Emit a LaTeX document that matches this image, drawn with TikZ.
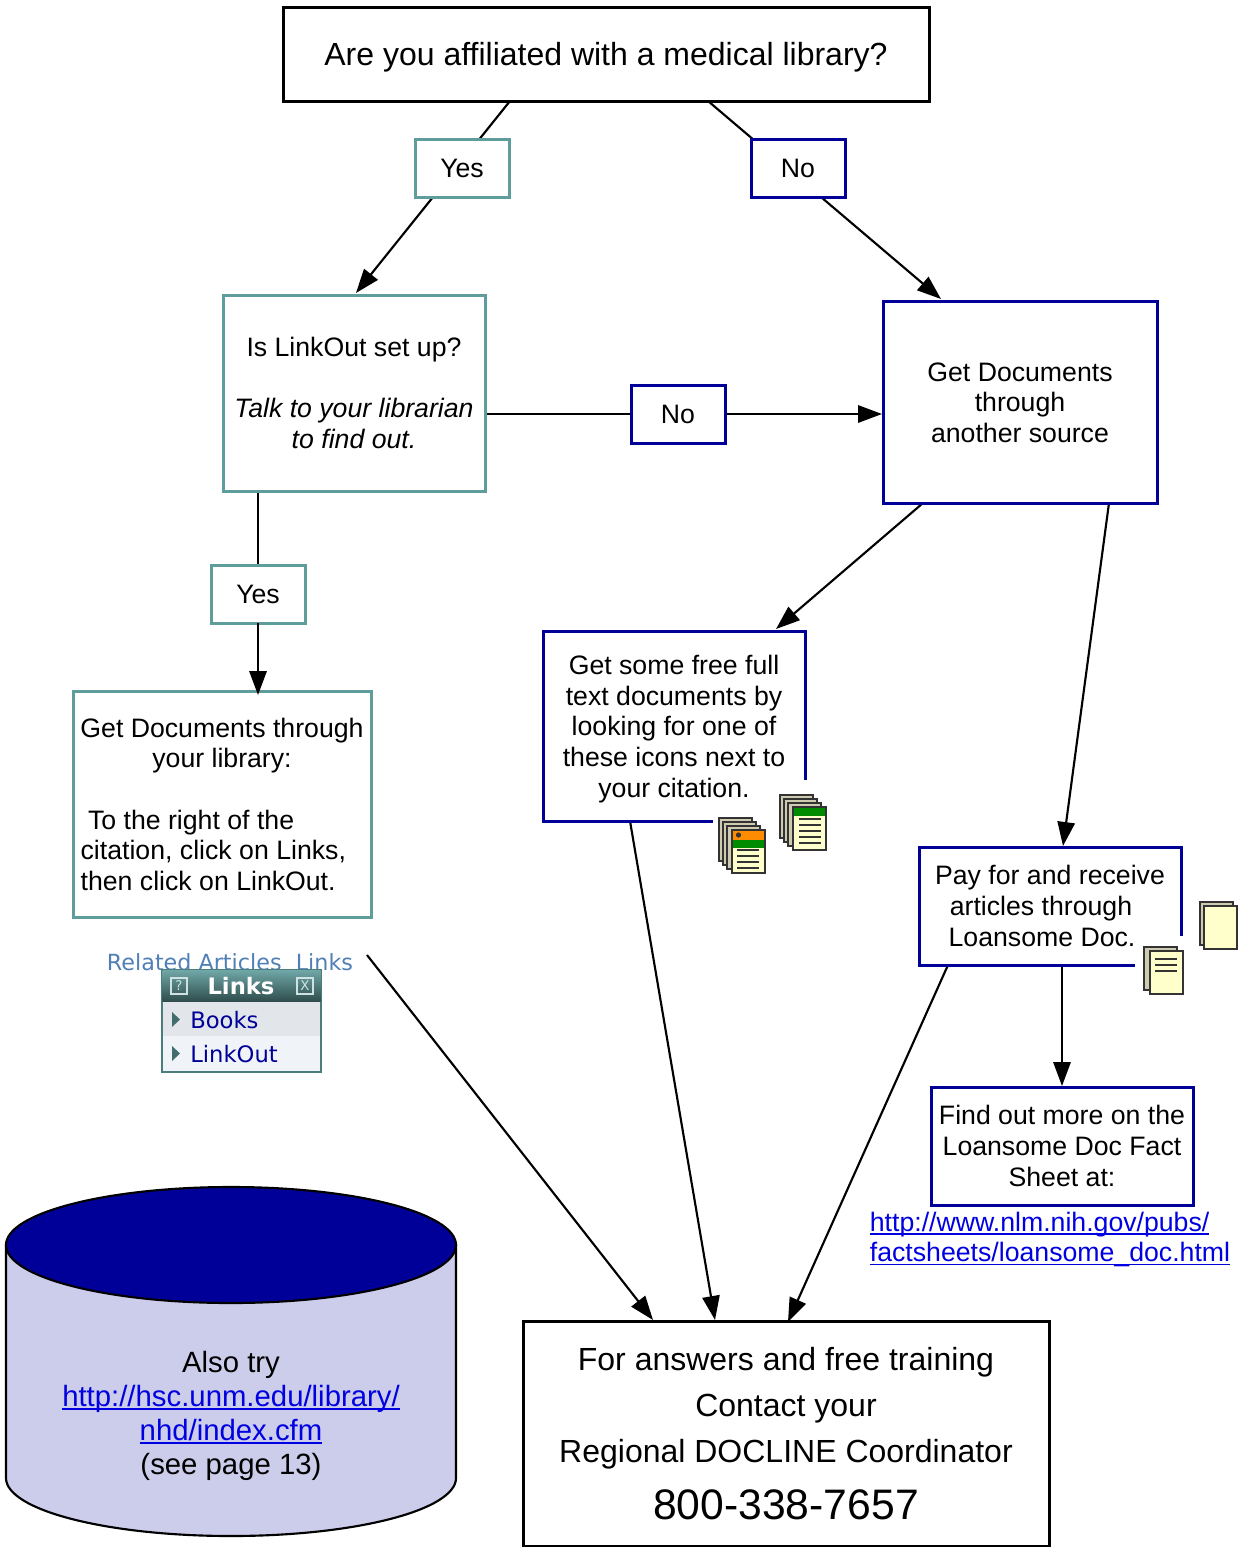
\documentclass[tikz,border=0pt]{standalone}
\usepackage{fontspec}
\setmainfont{Liberation Sans}
\newfontfamily\webfont{DejaVu Sans}
\usetikzlibrary{arrows.meta,backgrounds}
\definecolor{tealc}{HTML}{5F9C9C}
\definecolor{navyc}{HTML}{000099}
\definecolor{cylc}{HTML}{CCCCEB}
\definecolor{linkc}{HTML}{0000E0}
\definecolor{pagec}{HTML}{FFFFCC}
\definecolor{backc}{HTML}{CFCBB0}
\definecolor{darkc}{HTML}{333333}
\definecolor{relc}{HTML}{4F7FB5}
\definecolor{rowa}{HTML}{E2E6EA}
\definecolor{rowb}{HTML}{F0F3F7}
\newcommand{\bodyf}{\fontsize{20}{23}\selectfont}
\newcommand{\bigf}{\fontsize{24}{34.5}\selectfont}
\newcommand{\lnk}[1]{\textcolor{linkc}{\setbox0\hbox{#1}\rlap{\rule[-2.6pt]{\wd0}{1.3pt}}\box0}}
\newcommand{\docback}[2]{\draw[page line,fill=backc] (#1,#2) rectangle ++(33,43);}
\newcommand{\docfront}[2]{\draw[page line,fill=pagec] (#1,#2) rectangle ++(33,43);}
\newcommand{\doclines}[3]{\foreach \k in {0,...,#3} \draw[line width=1.6pt,darkc] (#1,#2+\k*6) -- ++(22,0);}
\tikzset{
  x=0.75pt,y=-0.75pt,
  page line/.style={draw=darkc,line width=1.5pt},
  boxbase/.style={rectangle,fill=white,line width=2.25pt,inner sep=0pt,outer sep=0pt,align=center,font=\bodyf},
  blackbox/.style={boxbase,draw=black},
  tealbox/.style={boxbase,draw=tealc},
  navybox/.style={boxbase,draw=navyc},
  conn/.style={draw=black,line width=1.6pt},
  arrow/.style={conn,-{Triangle[length=18pt,width=13pt]}},
  plain/.style={inner sep=0pt,outer sep=0pt,align=center,font=\bodyf},
}
\begin{document}
\begin{tikzpicture}
\useasboundingbox (0,0) rectangle (1241,1547);

% main boxes
\node[blackbox,minimum width=646*.75pt,minimum height=94*.75pt,font=\fontsize{24}{28}\selectfont] (q) at (606,54) {\raisebox{0pt}[17pt][0pt]{Are you affiliated with a medical library?}};
\node[tealbox,minimum width=94*.75pt,minimum height=58*.75pt] (yesa) at (462,168) {Yes};
\node[navybox,minimum width=94*.75pt,minimum height=58*.75pt] (noa) at (798,168) {No};
\node[tealbox,minimum width=262*.75pt,minimum height=196*.75pt] (linkout) at (354,393) {Is LinkOut set up?\\[23pt]\textit{Talk to your librarian}\\\textit{to find out.}};
\node[navybox,minimum width=94*.75pt,minimum height=58*.75pt] (nob) at (678,414) {No};
\node[navybox,minimum width=274*.75pt,minimum height=202*.75pt] (other) at (1020,402) {\rule{0pt}{15pt}Get Documents\\through\\another source};
\node[tealbox,minimum width=94*.75pt,minimum height=58*.75pt] (yesb) at (258,594) {Yes};
\node[tealbox,minimum width=298*.75pt,minimum height=226*.75pt] (lib) at (222,804) {\rule{0pt}{15pt}Get Documents through\\your library:\\[23pt]\makebox[212pt][l]{\ To the right of the}\\\makebox[212pt][l]{citation, click on Links,}\\\makebox[212pt][l]{then click on LinkOut.}};

% boxes with an open corner
\node[plain] (free) at (674,729) {Get some free full\\text documents by\\looking for one of\\these icons next to\\your citation.};
\draw[navyc,line width=2.25pt] (805,780) -- (805,631) -- (543,631) -- (543,821) -- (713,821);
\node[plain] (pay) at (1050,906) {\makebox[190pt][c]{Pay for and receive}\\\makebox[190pt][c]{articles through\hspace{13.5pt}}\\\makebox[190pt][c]{Loansome Doc.\hspace{12pt}}};
\draw[navyc,line width=2.25pt] (1181,936) -- (1181,847) -- (919,847) -- (919,965) -- (1135,965);

\node[navybox,minimum width=262*.75pt,minimum height=118*.75pt] (find) at (1062,1146) {Find out more on the\\Loansome Doc Fact\\Sheet at:};
\node[plain,align=left] (url) at (1050,1239.5) {\lnk{http://www.nlm.nih.gov/pubs/}\\\lnk{factsheets/loansome\_doc.html}};

\node[blackbox,minimum width=526*.75pt,minimum height=225*.75pt,font=\bigf] (ans) at (786,1433.5) {For answers and free training\\Contact your\\Regional DOCLINE Coordinator\\[8pt]{\fontsize{32}{36}\selectfont 800-338-7657}};

% cylinder
\path[draw=black,line width=1.6pt,fill=cylc] (6,1245) -- (6,1478) arc[start angle=180,end angle=360,x radius=225,y radius=-58] -- (456,1245) -- cycle;
\draw[black,line width=1.6pt,fill=navyc] (231,1245) ellipse[x radius=225,y radius=58];
\node[plain,font=\fontsize{22}{25.5}\selectfont] (also) at (231,1416) {Also try\\\lnk{http://hsc.unm.edu/library/}\\\lnk{nhd/index.cfm}\\(see page 13)};

% icons
\docback{719}{818}\docback{723}{822}\docback{727}{826}
\docfront{732}{830}
\fill[orange!90!yellow] (732.8,830.8) rectangle (764.2,839.5);
\fill[green!55!black] (732.8,839.5) rectangle (764.2,848);
\fill[darkc] (738.5,835) circle (2.6);
\doclines{737}{850}{3}
\docback{780}{795}\docback{784}{799}\docback{788}{803}
\docfront{793}{807}
\fill[green!55!black] (793.8,807.8) rectangle (825.2,816);
\doclines{799}{819}{4}
\docback{1200}{902}\docfront{1204}{906}
\docback{1144}{947}\docfront{1150}{951}
\doclines{1155}{959}{2}

% Links panel
\node[inner sep=0pt,outer sep=0pt,text=relc,font=\webfont\fontsize{16.7}{20}\selectfont] (rel) at (230,962) {Related Articles\ \ Links};
\node[rectangle,draw=tealc!80!black,fill=white,line width=1.5pt,minimum width=159*.75pt,minimum height=102*.75pt,inner sep=0pt,outer sep=0pt] (panel) at (241.5,1021) {};
\shade[top color=tealc!90!white,bottom color=tealc!50!black] (162.5,970.5) rectangle (320.5,1001);
\fill[rowa] (163,1002) rectangle (320,1036);
\fill[rowb] (163,1036) rectangle (320,1071);
\draw[white!70!tealc,line width=.8pt] (171,978) rectangle ++(16,16);
\draw[white!70!tealc,line width=.8pt] (297,978) rectangle ++(16,16);
\node[text=white!70!tealc,font=\webfont\fontsize{10}{12}\selectfont,inner sep=0pt] (hlp) at (179,986) {?};
\node[text=white!70!tealc,font=\webfont\fontsize{10}{12}\selectfont,inner sep=0pt] (cls) at (305,986) {X};
\node[text=white,font=\webfont\bfseries\fontsize{17}{18}\selectfont,inner sep=0pt] (ltitle) at (241,986) {Links};
\node[anchor=west,text=navyc,font=\webfont\fontsize{17}{18}\selectfont,inner sep=0pt] (books) at (190,1020) {Books};
\node[anchor=west,text=navyc,font=\webfont\fontsize{17}{18}\selectfont,inner sep=0pt] (lo) at (190,1054) {LinkOut};
\fill[tealc!70!black] (172,1012) -- (180,1019.5) -- (172,1027) -- cycle;
\fill[tealc!70!black] (172,1046) -- (180,1053.5) -- (172,1061) -- cycle;

% connector ends
\coordinate (qy) at (510,101);
\coordinate (qn) at (708,101);
\coordinate (lt) at (356,293);
\coordinate (ot) at (941,299);
\coordinate (ll) at (486,414);
\coordinate (ol) at (882,414);
\coordinate (lb) at (258,491);
\coordinate (lit) at (258,695);
\coordinate (ob1) at (923,503);
\coordinate (ft) at (776,629);
\coordinate (ob2) at (1109,503);
\coordinate (pt) at (1063,846);
\coordinate (fb) at (630,821);
\coordinate (a1) at (715,1320);
\coordinate (pb) at (948,965);
\coordinate (a2) at (788,1322);
\coordinate (pnl) at (367,955);
\coordinate (a3) at (653,1320);
\coordinate (pb2) at (1062,965);
\coordinate (fit) at (1062,1086);

\draw[arrow] (yesb.south) -- (lit);
\begin{pgfonlayer}{background}
\draw[arrow] (qy) -- (lt);
\draw[arrow] (qn) -- (ot);
\draw[arrow] (ll) -- (ol);
\draw[conn] (lb) -- (yesb.north);
\draw[arrow] (ob1) -- (ft);
\draw[arrow] (ob2) -- (pt);
\draw[arrow] (fb) -- (a1);
\draw[arrow] (pb) -- (a2);
\draw[arrow] (pnl) -- (a3);
\draw[arrow] (pb2) -- (fit);
\end{pgfonlayer}
\end{tikzpicture}
\end{document}
